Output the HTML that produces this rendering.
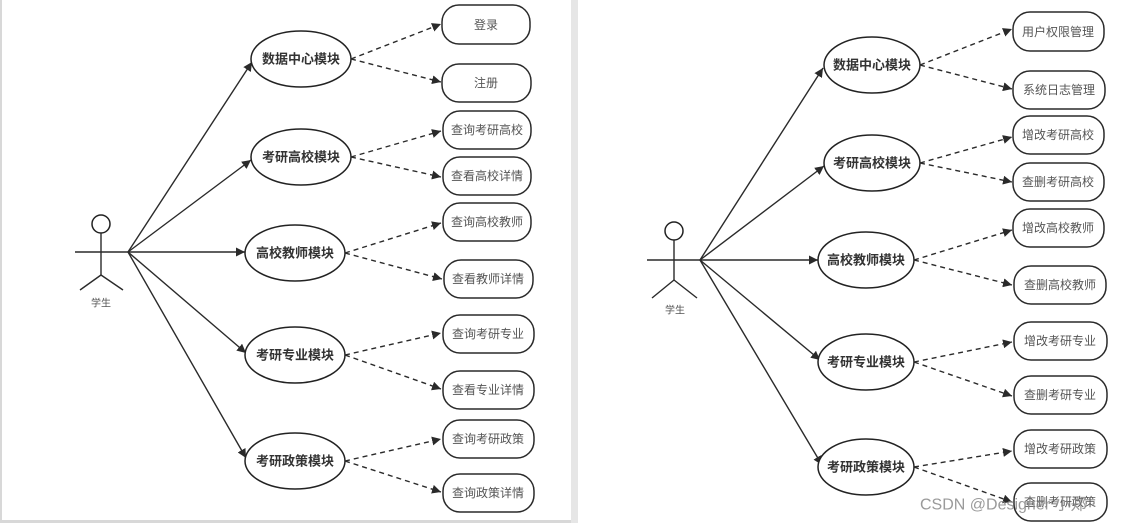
<!DOCTYPE html>
<html><head><meta charset="utf-8"><style>
html,body{margin:0;padding:0;background:#fff;width:1128px;height:525px;overflow:hidden}
svg{display:block}
text{font-family:"Liberation Sans","Noto Sans CJK SC",sans-serif;fill:#333}
.e{fill:#fff;stroke:#222;stroke-width:1.5}
.b{fill:#fff;stroke:#2a2a2a;stroke-width:1.5}
.s{stroke:#2a2a2a;stroke-width:1.4;fill:none}
.d{stroke:#2a2a2a;stroke-width:1.4;fill:none;stroke-dasharray:5 4}
.el{font-size:13px;font-weight:bold;text-anchor:middle;dominant-baseline:central}
.bl{font-size:12px;text-anchor:middle;dominant-baseline:central;fill:#555}
</style></head><body>
<svg width="1128" height="525" viewBox="0 0 1128 525">
<defs><marker id="a" viewBox="0 0 10 10" refX="10" refY="5" markerWidth="9" markerHeight="9" markerUnits="userSpaceOnUse" orient="auto"><path d="M0,0 L10,5 L0,10z" fill="#2a2a2a"/></marker></defs>
<rect x="0" y="0" width="2" height="522" fill="#d8d8d8"/>
<rect x="0" y="520" width="578" height="3" fill="#d8d8d8"/>
<rect x="571" y="0" width="7" height="523" fill="#e6e6e6"/>

<!-- LEFT -->
<circle cx="101" cy="224" r="9" class="e"/>
<line x1="101" y1="233" x2="101" y2="275" class="s"/>
<line x1="75" y1="252" x2="128" y2="252" class="s"/>
<line x1="101" y1="275" x2="80" y2="290" class="s"/>
<line x1="101" y1="275" x2="123" y2="290" class="s"/>
<text x="101" y="304" class="bl" style="font-size:10px">学生</text>

<line x1="128" y1="252" x2="252" y2="62" class="s" marker-end="url(#a)"/>
<line x1="128" y1="252" x2="251" y2="160" class="s" marker-end="url(#a)"/>
<line x1="128" y1="252" x2="245" y2="252" class="s" marker-end="url(#a)"/>
<line x1="128" y1="252" x2="246" y2="353" class="s" marker-end="url(#a)"/>
<line x1="128" y1="252" x2="246" y2="458" class="s" marker-end="url(#a)"/>

<ellipse cx="301" cy="59" rx="50" ry="28" class="e"/><text x="301" y="59" class="el">数据中心模块</text>
<ellipse cx="301" cy="157" rx="50" ry="28" class="e"/><text x="301" y="157" class="el">考研高校模块</text>
<ellipse cx="295" cy="253" rx="50" ry="28" class="e"/><text x="295" y="253" class="el">高校教师模块</text>
<ellipse cx="295" cy="355" rx="50" ry="28" class="e"/><text x="295" y="355" class="el">考研专业模块</text>
<ellipse cx="295" cy="461" rx="50" ry="28" class="e"/><text x="295" y="461" class="el">考研政策模块</text>

<line x1="351" y1="59" x2="441" y2="24" class="d" marker-end="url(#a)"/>
<line x1="351" y1="59" x2="441" y2="82" class="d" marker-end="url(#a)"/>
<line x1="351" y1="157" x2="441" y2="131" class="d" marker-end="url(#a)"/>
<line x1="351" y1="157" x2="441" y2="177" class="d" marker-end="url(#a)"/>
<line x1="345" y1="253" x2="441" y2="223" class="d" marker-end="url(#a)"/>
<line x1="345" y1="253" x2="442" y2="279" class="d" marker-end="url(#a)"/>
<line x1="345" y1="355" x2="441" y2="333" class="d" marker-end="url(#a)"/>
<line x1="345" y1="355" x2="441" y2="389" class="d" marker-end="url(#a)"/>
<line x1="345" y1="461" x2="441" y2="439" class="d" marker-end="url(#a)"/>
<line x1="345" y1="461" x2="441" y2="492" class="d" marker-end="url(#a)"/>

<rect x="442" y="5" width="88" height="39" rx="17" class="b"/><text x="486" y="25" class="bl">登录</text>
<rect x="442" y="64" width="89" height="38" rx="17" class="b"/><text x="486" y="83" class="bl">注册</text>
<rect x="443" y="111" width="88" height="38" rx="17" class="b"/><text x="487" y="130" class="bl">查询考研高校</text>
<rect x="443" y="157" width="88" height="38" rx="17" class="b"/><text x="487" y="176" class="bl">查看高校详情</text>
<rect x="443" y="203" width="88" height="38" rx="17" class="b"/><text x="487" y="222" class="bl">查询高校教师</text>
<rect x="444" y="260" width="89" height="38" rx="17" class="b"/><text x="488" y="279" class="bl">查看教师详情</text>
<rect x="443" y="315" width="91" height="38" rx="17" class="b"/><text x="488" y="334" class="bl">查询考研专业</text>
<rect x="443" y="371" width="91" height="38" rx="17" class="b"/><text x="488" y="390" class="bl">查看专业详情</text>
<rect x="443" y="420" width="91" height="38" rx="17" class="b"/><text x="488" y="439" class="bl">查询考研政策</text>
<rect x="443" y="474" width="91" height="38" rx="17" class="b"/><text x="488" y="493" class="bl">查询政策详情</text>

<!-- RIGHT -->
<circle cx="674" cy="231" r="9" class="e"/>
<line x1="674" y1="240" x2="674" y2="280" class="s"/>
<line x1="647" y1="260" x2="700" y2="260" class="s"/>
<line x1="674" y1="280" x2="652" y2="298" class="s"/>
<line x1="674" y1="280" x2="697" y2="298" class="s"/>
<text x="675" y="311" class="bl" style="font-size:10px">学生</text>

<line x1="700" y1="260" x2="823" y2="68" class="s" marker-end="url(#a)"/>
<line x1="700" y1="260" x2="824" y2="166" class="s" marker-end="url(#a)"/>
<line x1="700" y1="260" x2="818" y2="260" class="s" marker-end="url(#a)"/>
<line x1="700" y1="260" x2="820" y2="360" class="s" marker-end="url(#a)"/>
<line x1="700" y1="260" x2="822" y2="465" class="s" marker-end="url(#a)"/>

<ellipse cx="872" cy="65" rx="48" ry="28" class="e"/><text x="872" y="65" class="el">数据中心模块</text>
<ellipse cx="872" cy="163" rx="48" ry="28" class="e"/><text x="872" y="163" class="el">考研高校模块</text>
<ellipse cx="866" cy="260" rx="48" ry="28" class="e"/><text x="866" y="260" class="el">高校教师模块</text>
<ellipse cx="866" cy="362" rx="48" ry="28" class="e"/><text x="866" y="362" class="el">考研专业模块</text>
<ellipse cx="866" cy="467" rx="48" ry="28" class="e"/><text x="866" y="467" class="el">考研政策模块</text>

<line x1="920" y1="65" x2="1012" y2="29" class="d" marker-end="url(#a)"/>
<line x1="920" y1="65" x2="1012" y2="89" class="d" marker-end="url(#a)"/>
<line x1="920" y1="163" x2="1012" y2="137" class="d" marker-end="url(#a)"/>
<line x1="920" y1="163" x2="1012" y2="182" class="d" marker-end="url(#a)"/>
<line x1="914" y1="260" x2="1012" y2="230" class="d" marker-end="url(#a)"/>
<line x1="914" y1="260" x2="1012" y2="285" class="d" marker-end="url(#a)"/>
<line x1="914" y1="362" x2="1012" y2="342" class="d" marker-end="url(#a)"/>
<line x1="914" y1="362" x2="1012" y2="396" class="d" marker-end="url(#a)"/>
<line x1="914" y1="467" x2="1012" y2="451" class="d" marker-end="url(#a)"/>
<line x1="914" y1="467" x2="1012" y2="502" class="d" marker-end="url(#a)"/>

<rect x="1013" y="12" width="91" height="39" rx="17" class="b"/><text x="1058" y="32" class="bl">用户权限管理</text>
<rect x="1013" y="71" width="92" height="38" rx="17" class="b"/><text x="1059" y="90" class="bl">系统日志管理</text>
<rect x="1013" y="116" width="91" height="38" rx="17" class="b"/><text x="1058" y="135" class="bl">增改考研高校</text>
<rect x="1013" y="163" width="91" height="38" rx="17" class="b"/><text x="1058" y="182" class="bl">查删考研高校</text>
<rect x="1013" y="209" width="91" height="38" rx="17" class="b"/><text x="1058" y="228" class="bl">增改高校教师</text>
<rect x="1014" y="266" width="92" height="38" rx="17" class="b"/><text x="1060" y="285" class="bl">查删高校教师</text>
<rect x="1014" y="322" width="93" height="38" rx="17" class="b"/><text x="1060" y="341" class="bl">增改考研专业</text>
<rect x="1014" y="376" width="93" height="38" rx="17" class="b"/><text x="1060" y="395" class="bl">查删考研专业</text>
<rect x="1014" y="430" width="93" height="38" rx="17" class="b"/><text x="1060" y="449" class="bl">增改考研政策</text>
<rect x="1014" y="483" width="93" height="38" rx="17" class="b"/><text x="1060" y="502" class="bl">查删考研政策</text>

<text x="920" y="505" style="font-size:16px;fill:#888;fill-opacity:0.85;dominant-baseline:central">CSDN @Designer 小郑</text>
</svg>
</body></html>
